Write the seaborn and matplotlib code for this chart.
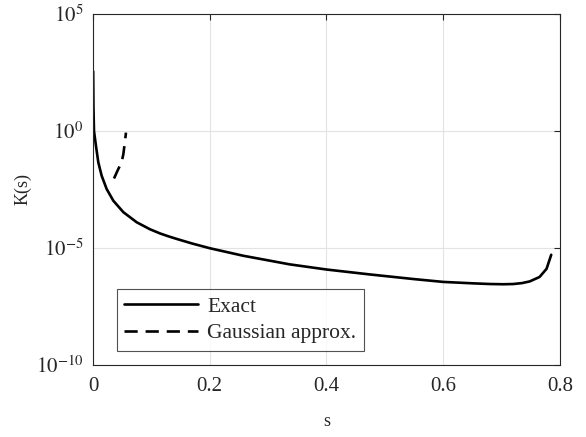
import numpy as np
import pandas as pd
import matplotlib
matplotlib.use("Agg")
import matplotlib.pyplot as plt
import matplotlib.ticker as mticker
import seaborn as sns

# Data (log10 of K)
exact_s = [0.0003, 0.0008, 0.0017, 0.0051, 0.0091, 0.0148, 0.0234, 0.0348,
           0.052, 0.0748, 0.0976, 0.115, 0.129, 0.143, 0.17, 0.2, 0.257, 0.337,
           0.4, 0.474, 0.55, 0.6, 0.65, 0.68, 0.703, 0.72, 0.735, 0.748,
           0.765, 0.777, 0.785]
exact_logK = [2.55, 1.0, 0.0, -0.64, -1.34, -1.91, -2.48, -2.98,
              -3.47, -3.90, -4.20, -4.38, -4.50, -4.61, -4.81, -5.01, -5.33, -5.70,
              -5.92, -6.13, -6.33, -6.45, -6.51, -6.54, -6.55, -6.54, -6.50, -6.43,
              -6.24, -5.89, -5.29]
gauss_s = [0.036, 0.0425, 0.049, 0.052, 0.0545, 0.0565]
gauss_logK = [-2.03, -1.67, -1.34, -0.99, -0.5, -0.07]

series_names = ["Exact", "Gaussian approx."]
x_ticks = [0, 0.2, 0.4, 0.6, 0.8]
y_ticks = [1e-10, 1e-5, 1e0, 1e5]
y_tick_labels = [r"$10^{-10}$", r"$10^{-5}$", r"$10^{0}$", r"$10^{5}$"]

df = pd.concat([
    pd.DataFrame({"s": exact_s, "K": np.power(10.0, exact_logK), "series": series_names[0]}),
    pd.DataFrame({"s": gauss_s, "K": np.power(10.0, gauss_logK), "series": series_names[1]}),
], ignore_index=True)

sns.set_style("white")
plt.rcParams["font.family"] = ["Liberation Serif", "DejaVu Serif"]
plt.rcParams["mathtext.fontset"] = "stix"

fig = plt.figure(figsize=(5.86, 4.37), dpi=100)
ax = fig.add_axes([0.1587, 0.1648, 0.7969, 0.8032])

sns.lineplot(data=df, x="s", y="K", hue="series", style="series",
             palette={series_names[0]: "black", series_names[1]: "black"},
             dashes={series_names[0]: "", series_names[1]: (5, 3)},
             linewidth=1.9, sort=False, estimator=None, ax=ax)

ax.set_yscale("log")
ax.set_xlim(0, 0.8)
ax.set_ylim(1e-10, 1e5)
ax.xaxis.set_major_locator(mticker.FixedLocator(x_ticks))
ax.xaxis.set_major_formatter(mticker.FuncFormatter(lambda v, p: f"{v:g}"))
ax.yaxis.set_major_locator(mticker.FixedLocator(y_ticks))
ax.yaxis.set_major_formatter(mticker.FixedFormatter(y_tick_labels))
ax.yaxis.set_minor_locator(mticker.NullLocator())
ax.xaxis.set_minor_locator(mticker.NullLocator())

ax.grid(True, color="#e3e3e3", linewidth=0.8)
ax.set_axisbelow(True)
for sp in ax.spines.values():
    sp.set_color("#262626")
    sp.set_linewidth(0.8)
    sp.set_visible(True)
ax.tick_params(direction="in", length=4, width=0.8, color="#262626",
               top=True, right=True, labelsize=15, labelcolor="#262626")
ax.tick_params(axis="x", pad=9)
ax.tick_params(axis="y", pad=7)

ax.set_xlabel("s", fontsize=13, color="#262626", labelpad=12)
ax.set_ylabel("K(s)", fontsize=13, color="#262626", labelpad=3)

handles, labels = ax.get_legend_handles_labels()
leg = ax.legend(handles, labels, loc="lower left", bbox_to_anchor=(0.051, 0.04),
                fontsize=15.5, frameon=True, fancybox=False, handlelength=3.4,
                borderpad=0.35, labelspacing=0.3, handletextpad=0.45,
                borderaxespad=0)
leg.get_frame().set_edgecolor("#262626")
leg.get_frame().set_linewidth(0.8)

fig.savefig("out.png", dpi=100)
